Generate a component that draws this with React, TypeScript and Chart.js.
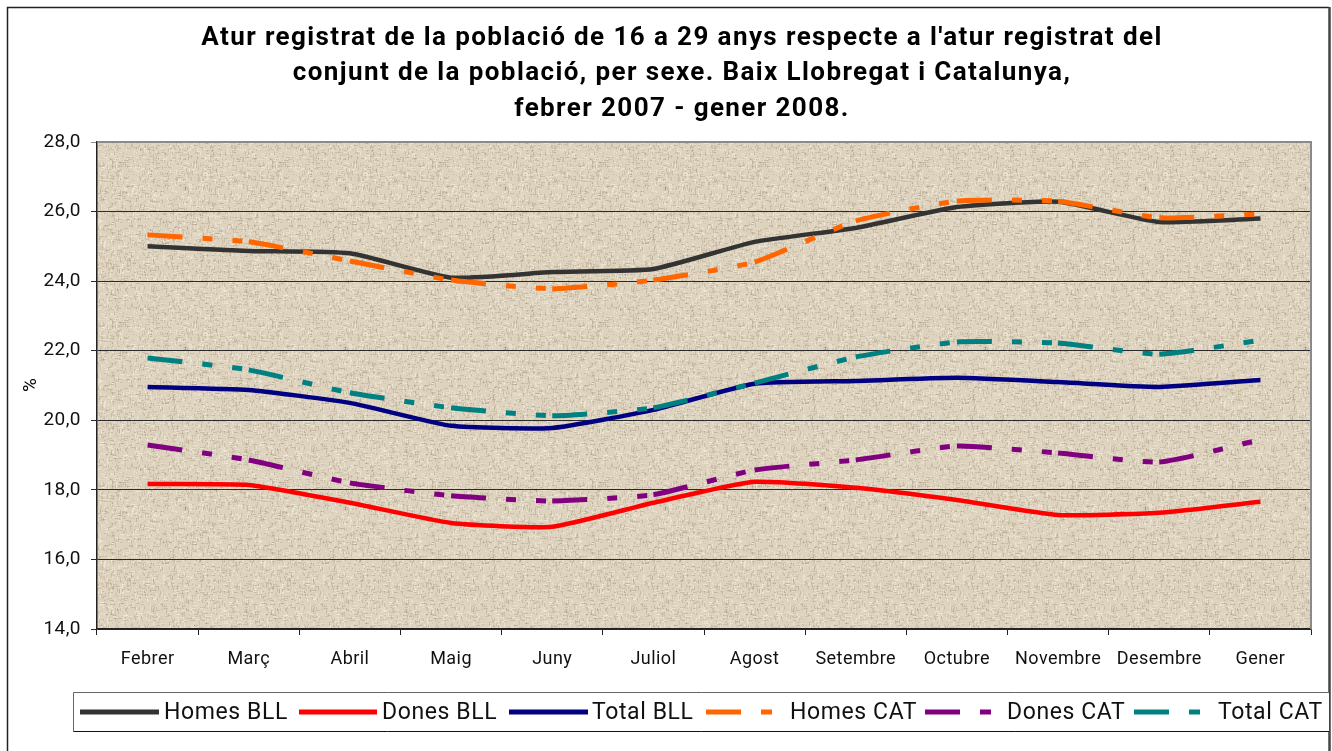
import React, { useEffect, useRef } from "react";
import { Chart, registerables } from "chart.js";

Chart.register(...registerables);

const categories = ["Febrer", "Març", "Abril", "Maig", "Juny", "Juliol", "Agost", "Setembre", "Octubre", "Novembre", "Desembre", "Gener"];

const homesBLL = [25.0, 24.87, 24.8, 24.1, 24.26, 24.35, 25.13, 25.53, 26.13, 26.28, 25.7, 25.8];
const donesBLL = [18.17, 18.14, 17.63, 17.05, 16.94, 17.63, 18.23, 18.06, 17.71, 17.28, 17.34, 17.66];
const totalBLL = [20.96, 20.87, 20.5, 19.84, 19.78, 20.3, 21.05, 21.13, 21.22, 21.1, 20.96, 21.16];
const homesCAT = [25.33, 25.13, 24.58, 24.03, 23.78, 24.03, 24.55, 25.73, 26.3, 26.3, 25.82, 25.93];
const donesCAT = [19.29, 18.86, 18.2, 17.83, 17.68, 17.86, 18.57, 18.86, 19.26, 19.06, 18.8, 19.44];
const totalCAT = [21.79, 21.45, 20.79, 20.36, 20.13, 20.36, 21.07, 21.82, 22.25, 22.22, 21.9, 22.3];

const seriesNames = ["Homes BLL", "Dones BLL", "Total BLL", "Homes CAT", "Dones CAT", "Total CAT"];
const seriesColors = ["#333333", "#FF0000", "#000080", "#FF6600", "#800080", "#008080"];

const yMin = 14;
const yMax = 28;
const yStep = 2;

const titleLines = [
  "Atur registrat de la població de 16 a 29 anys respecte a l'atur registrat del",
  "conjunt de la població, per sexe. Baix Llobregat i Catalunya,",
  "febrer 2007 - gener 2008.",
];
const yAxisTitle = "%";

const FONT = "Roboto, 'DejaVu Sans', sans-serif";

let textureCache: HTMLCanvasElement | null = null;
function hash(n: number) {
  const s = Math.sin(n * 12.9898 + 78.233) * 43758.5453;
  return s - Math.floor(s);
}
function getTexture() {
  if (textureCache) return textureCache;
  const c = document.createElement("canvas");
  const W = 160;
  c.width = W;
  c.height = W;
  const g = c.getContext("2d")!;
  g.fillStyle = "#DED3BF";
  g.fillRect(0, 0, W, W);
  for (let i = 0; i < 4200; i++) {
    const x = Math.floor(hash(i * 3 + 1) * W);
    const y = Math.floor(hash(i * 3 + 2) * W);
    const len = 1 + Math.floor(hash(i * 3 + 3) * 4);
    const t = hash(i * 7 + 5);
    g.fillStyle = t < 0.42 ? "rgba(170,152,128,0.33)" : t < 0.8 ? "rgba(244,238,224,0.55)" : "rgba(145,128,105,0.28)";
    if (i % 2 === 0) g.fillRect(x, y, len, 1);
    else g.fillRect(x, y, 1, len);
  }
  textureCache = c;
  return c;
}

const legendItems = [
  { x0: 80, x1: 159, tx: 164, dashed: false },
  { x0: 299, x1: 377, tx: 382, dashed: false },
  { x0: 509, x1: 588, tx: 592, dashed: false },
  { x0: 706, x1: 772, tx: 790, dashed: true },
  { x0: 925, x1: 992, tx: 1007, dashed: true },
  { x0: 1134, x1: 1201, tx: 1218, dashed: true },
];

const decorPlugin = {
  id: "decor",
  beforeDraw(chart: any) {
    const { ctx, chartArea } = chart;
    ctx.save();
    const pat = ctx.createPattern(getTexture(), "repeat");
    ctx.fillStyle = pat;
    ctx.fillRect(chartArea.left, chartArea.top, chartArea.right - chartArea.left, chartArea.bottom - chartArea.top);
    ctx.restore();
    ctx.letterSpacing = "0.45px";
  },
  beforeDatasetsDraw(chart: any) {
    const { ctx, chartArea } = chart;
    ctx.save();
    ctx.strokeStyle = "#8a8a8a";
    ctx.lineWidth = 2;
    ctx.beginPath();
    ctx.moveTo(chartArea.left, chartArea.top);
    ctx.lineTo(chartArea.right, chartArea.top);
    ctx.lineTo(chartArea.right, chartArea.bottom);
    ctx.stroke();
    ctx.restore();
  },
  afterDraw(chart: any) {
    const { ctx } = chart;
    ctx.save();
    ctx.letterSpacing = "0px";
    // outer border
    ctx.strokeStyle = "#222";
    ctx.lineWidth = 1.5;
    ctx.beginPath();
    ctx.moveTo(7.5, 760);
    ctx.lineTo(7.5, 7.5);
    ctx.lineTo(1329, 7.5);
    ctx.stroke();
    ctx.strokeStyle = "#444";
    ctx.lineWidth = 2.5;
    ctx.beginPath();
    ctx.moveTo(1329.5, 7);
    ctx.lineTo(1329.5, 760);
    ctx.stroke();

    // title
    ctx.fillStyle = "#000";
    ctx.font = `bold 26px ${FONT}`;
    ctx.letterSpacing = "1.4px";
    ctx.textAlign = "center";
    ctx.textBaseline = "middle";
    titleLines.forEach((l, i) => ctx.fillText(l, 682, 38 + i * 35.5));

    // y title
    ctx.letterSpacing = "0px";
    ctx.save();
    ctx.translate(31, 385);
    ctx.rotate(-Math.PI / 2);
    ctx.font = `19px ${FONT}`;
    ctx.fillText(yAxisTitle, 0, 0);
    ctx.restore();

    // legend box
    ctx.fillStyle = "#fff";
    ctx.fillRect(73, 692, 1256, 39);
    ctx.strokeStyle = "#666";
    ctx.lineWidth = 1;
    ctx.beginPath();
    ctx.moveTo(73.5, 731.5);
    ctx.lineTo(73.5, 692.5);
    ctx.lineTo(1329, 692.5);
    ctx.stroke();
    ctx.strokeStyle = "#111";
    ctx.beginPath();
    ctx.moveTo(73.5, 731.5);
    ctx.lineTo(1329, 731.5);
    ctx.stroke();

    ctx.font = `23px ${FONT}`;
    ctx.letterSpacing = "0.6px";
    ctx.textAlign = "left";
    ctx.textBaseline = "middle";
    legendItems.forEach((it, i) => {
      ctx.strokeStyle = seriesColors[i];
      ctx.lineWidth = 5;
      ctx.lineCap = "butt";
      ctx.setLineDash(it.dashed ? [35, 20, 11, 200] : []);
      ctx.beginPath();
      ctx.moveTo(it.x0, 712);
      ctx.lineTo(it.x1, 712);
      ctx.stroke();
      ctx.setLineDash([]);
      ctx.fillStyle = "#111";
      ctx.fillText(seriesNames[i], it.tx, 713);
    });
    ctx.restore();
  },
};

export default function App() {
  const ref = useRef<HTMLCanvasElement>(null);
  useEffect(() => {
    if (!ref.current) return;
    const all = [homesBLL, donesBLL, totalBLL, homesCAT, donesCAT, totalCAT];
    const datasets = all.map((d, i) => {
      const dashed = i >= 3;
      return {
        label: seriesNames[i],
        data: d,
        borderColor: seriesColors[i],
        backgroundColor: seriesColors[i],
        borderWidth: dashed ? 5 : 4.5,
        borderDash: dashed ? [35, 20, 10, 20, 10, 20] : [],
        pointRadius: 0,
        pointHoverRadius: 0,
        tension: 0.16,
        fill: false,
        borderCapStyle: "butt",
        order: 6 - i,
        segment: dashed
          ? { borderDashOffset: (c: any) => (c.p0DataIndex % 2 ? 0.001 : 0) }
          : undefined,
      };
    });
    const chart = new Chart(ref.current, {
      type: "line",
      data: { labels: categories, datasets: datasets as any },
      options: {
        animation: false,
        responsive: false,
        layout: { padding: { left: 0, right: 21, top: 142, bottom: 0 } },
        plugins: {
          legend: { display: false },
          title: { display: false },
          tooltip: { enabled: false },
        },
        scales: {
          x: {
            type: "category",
            offset: true,
            grid: { offset: true, drawOnChartArea: false, drawTicks: true, tickLength: 6, color: "#222", lineWidth: 1 },
            border: { color: "#222", width: 1.5 },
            ticks: { color: "#111", font: { family: FONT, size: 18 }, padding: 14, maxRotation: 0, autoSkip: false },
            afterFit: (s: any) => {
              s.height = 122;
            },
          },
          y: {
            min: yMin,
            max: yMax,
            ticks: {
              stepSize: yStep,
              color: "#111",
              font: { family: FONT, size: 19 },
              padding: 10,
              callback: (v: any) => Number(v).toFixed(1).replace(".", ","),
            },
            grid: {
              color: (c: any) => (c.tick && c.tick.value === yMax ? "#8a8a8a" : "#2a2a2a"),
              lineWidth: 1,
              tickLength: 6,
              drawTicks: true,
            },
            border: { color: "#222", width: 1.5 },
            afterFit: (s: any) => {
              s.width = 97;
            },
          },
        },
      },
      plugins: [decorPlugin],
    });
    return () => chart.destroy();
  }, []);
  return (
    <div style={{ position: "absolute", left: 0, top: 0, width: 1332, height: 751, background: "#fff" }}>
      <canvas ref={ref} width={1332} height={751} style={{ width: 1332, height: 751, display: "block" }} />
    </div>
  );
}
